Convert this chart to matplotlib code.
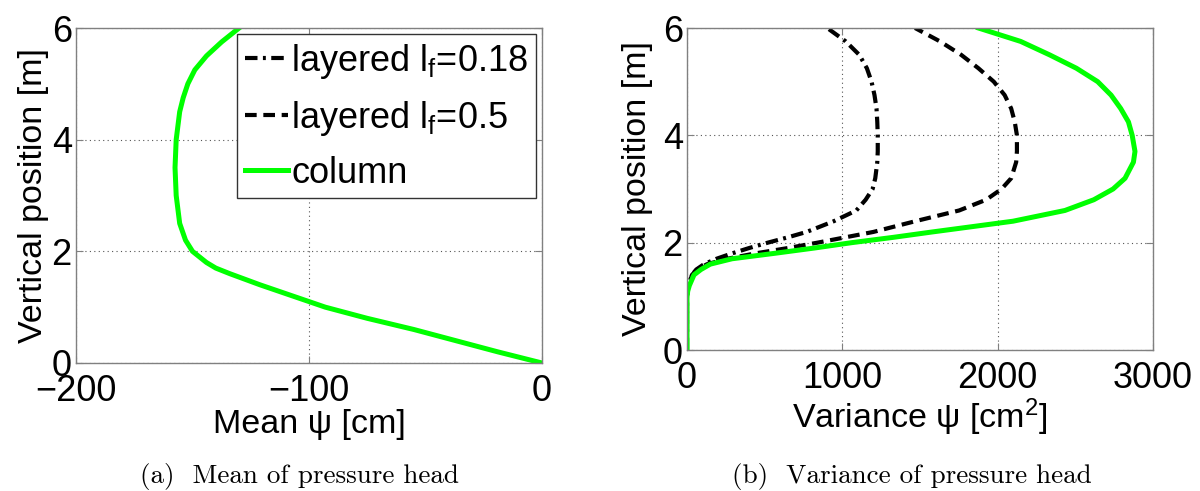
import matplotlib
matplotlib.use("Agg")
import matplotlib.pyplot as plt

# --- data ---
# (a) mean pressure head, column model
height_mean = [0.0, 0.2, 0.4, 0.5, 0.6, 0.8, 1.0, 1.1, 1.2, 1.3, 1.4, 1.5, 1.6,
               1.7, 1.8, 1.9, 2.0, 2.2, 2.5, 3.0, 3.5, 4.0, 4.5, 4.75, 5.0,
               5.25, 5.5, 5.75, 6.0]
mean_column = [0, -19, -37, -46, -55, -75, -93, -100, -107, -114, -121, -127.5,
               -134, -140, -144, -147, -150, -153, -155.5, -157, -157.5, -157,
               -155.5, -154, -152, -149, -144, -137.5, -130]

# (b) variance of pressure head
height_var = [0.0, 1.0, 1.1, 1.2, 1.4, 1.5, 1.6, 1.7, 1.8, 1.9, 2.0, 2.1, 2.2,
              2.4, 2.6, 2.8, 3.0, 3.2, 3.5, 3.7, 4.0, 4.25, 4.5, 4.75, 5.0,
              5.25, 5.5, 5.75, 6.0]
var_lf018 = [0, 0, 3, 7, 32, 60, 110, 190, 290, 400, 520, 650, 770, 945, 1090,
             1150, 1195, 1212, 1225, 1228, 1228, 1225, 1220, 1207, 1188, 1158,
             1109, 1022, 903]
var_lf05 = [0, 0, 3, 7, 32, 65, 130, 260, 440, 650, 840, 1020, 1200, 1470,
            1752, 1926, 2025, 2087, 2119, 2124, 2124, 2110, 2087, 2045, 1975,
            1876, 1765, 1629, 1468]
var_column = [0, 0, 5, 15, 45, 90, 150, 290, 560, 820, 1060, 1330, 1580,
              2099, 2433, 2619, 2743, 2820, 2874, 2884, 2866, 2842, 2792, 2730,
              2644, 2507, 2334, 2148, 1876]

GREEN = "#00ff00"
plt.rcParams["font.family"] = ["Liberation Sans", "DejaVu Sans"]
plt.rcParams["mathtext.fontset"] = "custom"
plt.rcParams["mathtext.rm"] = "Liberation Sans"
plt.rcParams["mathtext.it"] = "Liberation Sans"
TICK_FS = 26
LABEL_FS = 24.5

fig = plt.figure(figsize=(12, 4.91), dpi=100)
ax1 = fig.add_axes([76 / 1200, 1 - 363 / 491, 466 / 1200, 335 / 491])
ax2 = fig.add_axes([687 / 1200, 1 - 350 / 491, 466 / 1200, 322 / 491])

DASHDOT = (0, (3, 1.3, 0.7, 1.3))
DASHED = (0, (2.8, 1.6))


def style(ax):
    for s in ax.spines.values():
        s.set_color("#808080")
        s.set_linewidth(1.0)
    ax.tick_params(direction="in", length=5, color="#808080",
                   labelsize=TICK_FS, top=True, right=True)
    ax.tick_params(axis="x", pad=8)
    ax.tick_params(axis="y", pad=3)
    ax.grid(True, color="#555555", linestyle=(0, (1, 3)), linewidth=0.8)


# (a)
ax1.plot([], [], color="black", lw=3, ls=DASHDOT,
         label="layered l$_\\mathregular{f}$=0.18")
ax1.plot([], [], color="black", lw=3, ls=DASHED,
         label="layered l$_\\mathregular{f}$=0.5")
ax1.plot(mean_column, height_mean, color=GREEN, lw=3.6, label="column",
         solid_joinstyle="round")
ax1.set_xlim(-200, 0)
ax1.set_ylim(0, 6)
ax1.set_xticks([-200, -100, 0])
ax1.set_yticks([0, 2, 4, 6])
style(ax1)
ax1.set_xlabel("Mean \u03c8 [cm]", fontsize=LABEL_FS, labelpad=0)
ax1.set_ylabel("Vertical position [m]", fontsize=LABEL_FS, labelpad=2)
leg = ax1.legend(loc="upper right", fontsize=26, handlelength=1.2,
                 handletextpad=0.1, borderpad=0.2, labelspacing=0.5,
                 borderaxespad=0.18, fancybox=False, framealpha=1,
                 edgecolor="#333333")
leg.get_frame().set_linewidth(1.0)

# (b)
ax2.plot(var_lf018, height_var, color="black", lw=3, ls=DASHDOT)
ax2.plot(var_lf05, height_var, color="black", lw=3, ls=DASHED)
ax2.plot(var_column, height_var, color=GREEN, lw=3.6, solid_joinstyle="round")
ax2.set_xlim(0, 3000)
ax2.set_ylim(0, 6)
ax2.set_xticks([0, 1000, 2000, 3000])
ax2.set_yticks([0, 2, 4, 6])
style(ax2)
ax2.set_xlabel("Variance \u03c8 [cm$^\\mathregular{2}$]", fontsize=LABEL_FS,
               labelpad=0)
ax2.set_ylabel("Vertical position [m]", fontsize=LABEL_FS, labelpad=7)

# captions
fig.text(300 / 1200, 1 - 477 / 491, "(a)  Mean of pressure head",
         fontsize=19.5, family="cmr10", ha="center", va="center")
fig.text(912 / 1200, 1 - 477 / 491, "(b)  Variance of pressure head",
         fontsize=19.5, family="cmr10", ha="center", va="center")

fig.savefig("out.png", dpi=100)
